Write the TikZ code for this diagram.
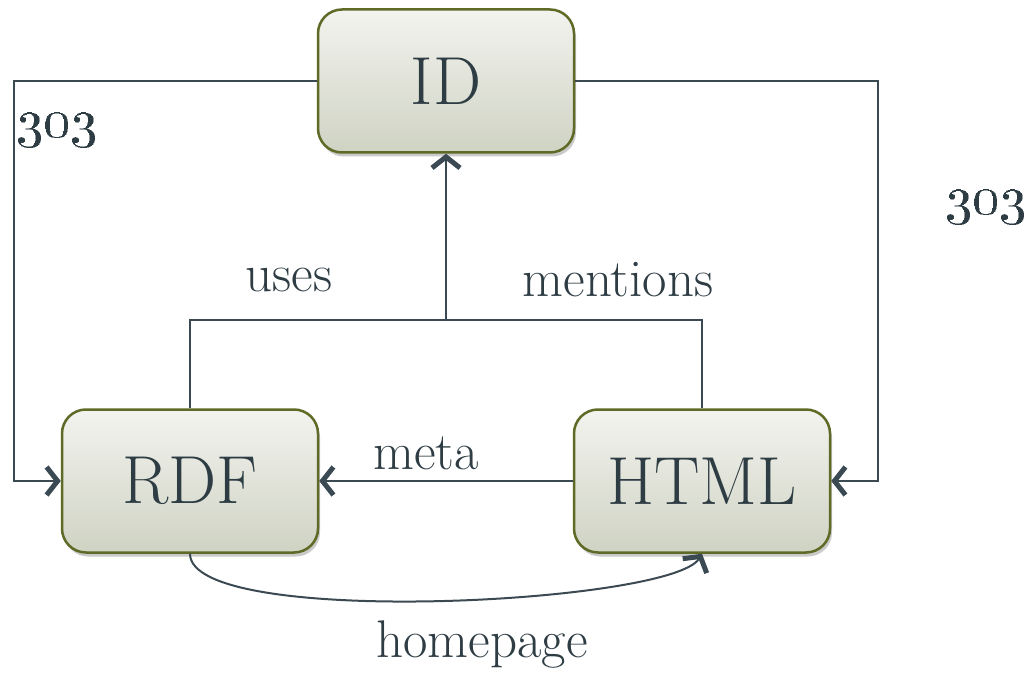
\documentclass[tikz,border=0pt]{standalone}
\usetikzlibrary{arrows.meta,shadows}
\definecolor{txt}{HTML}{2E3C44}
\definecolor{ln}{HTML}{3B4A52}
\definecolor{olive}{HTML}{5E6A25}
\definecolor{topc}{HTML}{F3F3EF}
\definecolor{botc}{HTML}{CFD3C3}
\tikzset{
  box/.style={draw=olive, line width=2.5pt, rounded corners=24pt,
    top color=topc, bottom color=botc, minimum width=256pt, minimum height=143pt,
    text=txt, font=\fontsize{68}{74}\selectfont,
    drop shadow={shadow xshift=2pt, shadow yshift=-4pt, opacity=0.35, fill=black!60}},
  conn/.style={draw=ln, line width=2pt},
  arr/.style={conn, -{Straight Barb[length=11pt,width=28pt,line width=5pt]}},
  lbl/.style={text=txt, font=\fontsize{53}{58}\selectfont, inner sep=0pt},
  num/.style={text=txt, inner sep=0pt, scale=5.4}
}
\begin{document}
\begin{tikzpicture}[x=1pt,y=-1pt]
\useasboundingbox (0,0) rectangle (1031,674);
\node[box] (id) at (446,81) {ID};
\node[box] (rdf) at (190,481) {RDF};
\node[box] (html) at (702,481) {HTML};
\coordinate (tl) at (14,81);
\coordinate (bl) at (14,481);
\coordinate (tr) at (878,81);
\coordinate (br) at (878,481);
\coordinate (jl) at (190,320);
\coordinate (jm) at (446,320);
\coordinate (jr) at (702,320);
\draw[arr] (id.west) -- (tl) -- (bl) -- (rdf.west);
\draw[arr] (id.east) -- (tr) -- (br) -- (html.east);
\draw[conn] (rdf.north) -- (jl) -- (jr) -- (html.north);
\draw[arr] (jm) -- (id.south);
\draw[arr] (html.west) -- (rdf.east);
\draw[arr] (rdf.south) .. controls +(0,75) and +(-30,50) .. (html.south);
\node[lbl] (uses) at (289,280) {uses};
\node[lbl] (mentions) at (618,280) {mentions};
\node[lbl] (meta) at (426,453) {meta};
\node[lbl] (homepage) at (482,645) {homepage};
\node[num] (n1) at (57,130) {\oldstylenums{303}};
\node[num] (n2) at (986,207) {\oldstylenums{303}};
\end{tikzpicture}
\end{document}
